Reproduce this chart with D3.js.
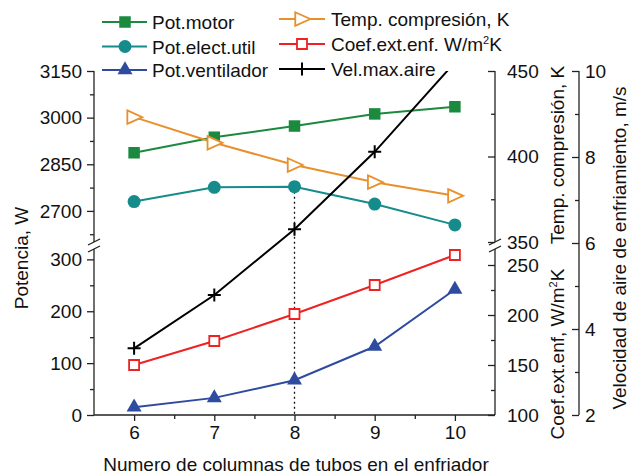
<!DOCTYPE html>
<html><head><meta charset="utf-8">
<script src="https://cdn.jsdelivr.net/npm/d3@7"></script>
<style>
body{margin:0;background:#fff}
text{font-family:Arial,"Liberation Sans",sans-serif;font-size:19px;fill:#111}
</style>
</head><body><svg id="c" width="632" height="476"></svg>
<script>
// ---- data ----
const columns   = [6, 7, 8, 9, 10];
const potMotor  = [2887, 2937, 2973, 3012, 3035];
const potElect  = [2730, 2776, 2778, 2722, 2655];
const potVent   = [15, 33, 67, 132, 242];
const tempComp  = [423, 408, 395, 385, 377];
const coefExt   = [150, 174, 201, 230, 260];
const velAire   = [3.55, 4.79, 6.32, 8.12, 10.2];
const xTicks         = [6, 7, 8, 9, 10];
const xMinor         = [6.5, 7.5, 8.5, 9.5];
const potUpperTicks  = [2700, 2850, 3000, 3150];
const potUpperMinor  = [2625, 2775, 2925, 3075];
const potLowerTicks  = [0, 100, 200, 300];
const potLowerMinor  = [50, 150, 250];
const tempTicks      = [350, 400, 450];
const tempMinor      = [375, 425];
const coefTicks      = [100, 150, 200, 250];
const coefMinor      = [125, 175, 225];
const velTicks       = [2, 4, 6, 8, 10];
const velMinor       = [3, 5, 7, 9];

const FS = 19;
const svg = d3.select("#c");
svg.append("rect").attr("width",632).attr("height",476).attr("fill","#fff");

const L = 94, R = 495, T = 71, B = 415, RV = 579;
const upTop = T, upBot = 242, loTop = 249;
const x   = d3.scaleLinear([5.5, 10.5], [L, R]);
const yPU = d3.scaleLinear([2600, 3150], [upBot, upTop]);
const yPL = d3.scaleLinear([0, 320], [B, loTop]);
const yT  = d3.scaleLinear([350, 450], [upBot, upTop]);
const yC  = d3.scaleLinear([100, 266], [B, loTop]);
const yV  = d3.scaleLinear([2, 10], [B, T]);

const col = {motor:"#1b8a3e", elect:"#168b8b", vent:"#2f4b9f", temp:"#e8902c", coef:"#ee2222", vel:"#000"};

function axisG(axis, tx, ty){
  const g = svg.append("g").attr("transform",`translate(${tx},${ty})`).call(axis);
  g.select(".domain").remove();
  g.selectAll("line").attr("stroke","#222").attr("stroke-width",1.3);
  g.selectAll("text").attr("font-size",FS).attr("font-family","Arial, 'Liberation Sans', sans-serif").attr("fill","#111");
  return g;
}
function line(x1,y1,x2,y2,w){ svg.append("line").attr("x1",x1).attr("y1",y1).attr("x2",x2).attr("y2",y2).attr("stroke","#222").attr("stroke-width",w||1.3); }

// bottom axis
axisG(d3.axisBottom(x).tickValues(xTicks).tickSize(6).tickPadding(5).tickFormat(d3.format("d")), 0, B);
axisG(d3.axisBottom(x).tickValues(xMinor).tickSize(4).tickFormat(""), 0, B);
line(L, B, R, B);

// left axis (broken)
axisG(d3.axisLeft(yPU).tickValues(potUpperTicks).tickSize(7).tickPadding(5).tickFormat(d3.format("d")), L, 0);
axisG(d3.axisLeft(yPU).tickValues(potUpperMinor).tickSize(4).tickFormat(""), L, 0);
axisG(d3.axisLeft(yPL).tickValues(potLowerTicks).tickSize(7).tickPadding(5).tickFormat(d3.format("d")), L, 0);
axisG(d3.axisLeft(yPL).tickValues(potLowerMinor).tickSize(4).tickFormat(""), L, 0);
line(L, T, L, upBot); line(L, loTop, L, B);
line(L-6, upBot+3, L+6, upBot-3); line(L-6, loTop+3, L+6, loTop-3);

// right axis 1 (broken): temp upper, coef lower
axisG(d3.axisRight(yT).tickValues(tempTicks).tickSize(-7).tickPadding(12).tickFormat(d3.format("d")), R, 0);
axisG(d3.axisRight(yT).tickValues(tempMinor).tickSize(-4).tickFormat(""), R, 0);
axisG(d3.axisRight(yC).tickValues(coefTicks).tickSize(-7).tickPadding(12).tickFormat(d3.format("d")), R, 0);
axisG(d3.axisRight(yC).tickValues(coefMinor).tickSize(-4).tickFormat(""), R, 0);
line(R, T, R, upBot); line(R, loTop, R, B);
line(R-6, upBot+3, R+6, upBot-3); line(R-6, loTop+3, R+6, loTop-3);

// right axis 2: velocity
axisG(d3.axisRight(yV).tickValues(velTicks).tickSize(-7).tickPadding(6).tickFormat(d3.format("d")), RV, 0);
axisG(d3.axisRight(yV).tickValues(velMinor).tickSize(-4).tickFormat(""), RV, 0);
line(RV, T, RV, B);

// clip
svg.append("clipPath").attr("id","pc").append("rect").attr("x",L).attr("y",T).attr("width",R-L).attr("height",B-T);

// dotted guide at x=8
svg.append("line").attr("x1",x(8)).attr("x2",x(8)).attr("y1",yPU(potElect[2])).attr("y2",B)
  .attr("stroke","#111").attr("stroke-width",1.3).attr("stroke-dasharray","2,3");

// marker paths
const mk = {
  sq:  s => `M${-s/2},${-s/2}H${s/2}V${s/2}H${-s/2}Z`,
  tri: s => `M0,${-s*0.58}L${s/2},${s*0.29}L${-s/2},${s*0.29}Z`,
  rtri: s => `M${-s*0.45},${-s*0.45}L${s*0.55},0L${-s*0.45},${s*0.45}Z`,
  plus: s => `M${-s/2},0H${s/2}M0,${-s/2}V${s/2}`
};
function drawMarker(g, type, cx, cy, c){
  if(type==="circle") g.append("circle").attr("cx",cx).attr("cy",cy).attr("r",6.5).attr("fill",c);
  else if(type==="sq") g.append("path").attr("d",mk.sq(11.5)).attr("transform",`translate(${cx},${cy})`).attr("fill",c);
  else if(type==="tri") g.append("path").attr("d",mk.tri(15)).attr("transform",`translate(${cx},${cy})`).attr("fill",c);
  else if(type==="rtri") g.append("path").attr("d",mk.rtri(15)).attr("transform",`translate(${cx},${cy})`).attr("fill","#fff").attr("stroke",c).attr("stroke-width",1.8);
  else if(type==="osq") g.append("path").attr("d",mk.sq(10)).attr("transform",`translate(${cx},${cy})`).attr("fill","#fff").attr("stroke",c).attr("stroke-width",1.8);
  else if(type==="plus") g.append("path").attr("d",mk.plus(13)).attr("transform",`translate(${cx},${cy})`).attr("fill","none").attr("stroke",c).attr("stroke-width",2);
}
function series(vals, yS, c, type, clip){
  const g = svg.append("g");
  if(clip) g.attr("clip-path","url(#pc)");
  const pts = columns.map((d,i)=>[x(d), yS(vals[i])]);
  g.append("path").attr("d", d3.line()(pts)).attr("fill","none").attr("stroke",c).attr("stroke-width",2);
  pts.forEach(p=>drawMarker(g, type, p[0], p[1], c));
}
series(potMotor, yPU, col.motor, "sq");
series(potElect, yPU, col.elect, "circle");
series(potVent,  yPL, col.vent,  "tri");
series(tempComp, yT,  col.temp,  "rtri");
series(coefExt,  yC,  col.coef,  "osq");
series(velAire,  yV,  col.vel,   "plus", true);

// legend
const leg1 = [["Pot.motor",col.motor,"sq",22],["Pot.elect.util",col.elect,"circle",46.5],["Pot.ventilador",col.vent,"tri",70]];
const leg2 = [["Temp. compresión, K",col.temp,"rtri",19],["Coef.ext.enf. W/m|2|K",col.coef,"osq",44],["Vel.max.aire",col.vel,"plus",69]];
function legend(items, x1, x2, mx, tx){
  items.forEach(([lab,c,type,y])=>{
    const g = svg.append("g");
    g.append("line").attr("x1",x1).attr("x2",x2).attr("y1",y).attr("y2",y).attr("stroke",c).attr("stroke-width",2);
    drawMarker(g, type, mx, y, c);
    const t = svg.append("text").attr("x",tx).attr("y",y+7);
    const parts = lab.split("|");
    if(parts.length===1) t.text(lab);
    else {
      t.append("tspan").text(parts[0]);
      t.append("tspan").attr("dy",-7).attr("font-size",11).text(parts[1]);
      t.append("tspan").attr("dy",7).text(parts[2]);
    }
  });
}
legend(leg1, 102, 147, 125, 152);
legend(leg2, 279, 325, 302, 331);

// axis titles
svg.append("text").attr("text-anchor","middle").attr("transform","translate(28,258) rotate(-90)").text("Potencia, W");
svg.append("text").attr("text-anchor","middle").attr("transform","translate(564,155) rotate(-90)").text("Temp. compresión, K");
const ct = svg.append("text").attr("text-anchor","middle").attr("transform","translate(564,354) rotate(-90)");
ct.append("tspan").text("Coef.ext.enf, W/m");
ct.append("tspan").attr("dy",-7).attr("font-size",11).text("2");
ct.append("tspan").attr("dy",7).text("K");
svg.append("text").attr("text-anchor","middle").attr("transform","translate(626,248) rotate(-90)").text("Velocidad de aire de enfriamiento, m/s");
svg.append("text").attr("text-anchor","middle").attr("x",296).attr("y",471).text("Numero de columnas de tubos en el enfriador");
</script>
</body></html>
